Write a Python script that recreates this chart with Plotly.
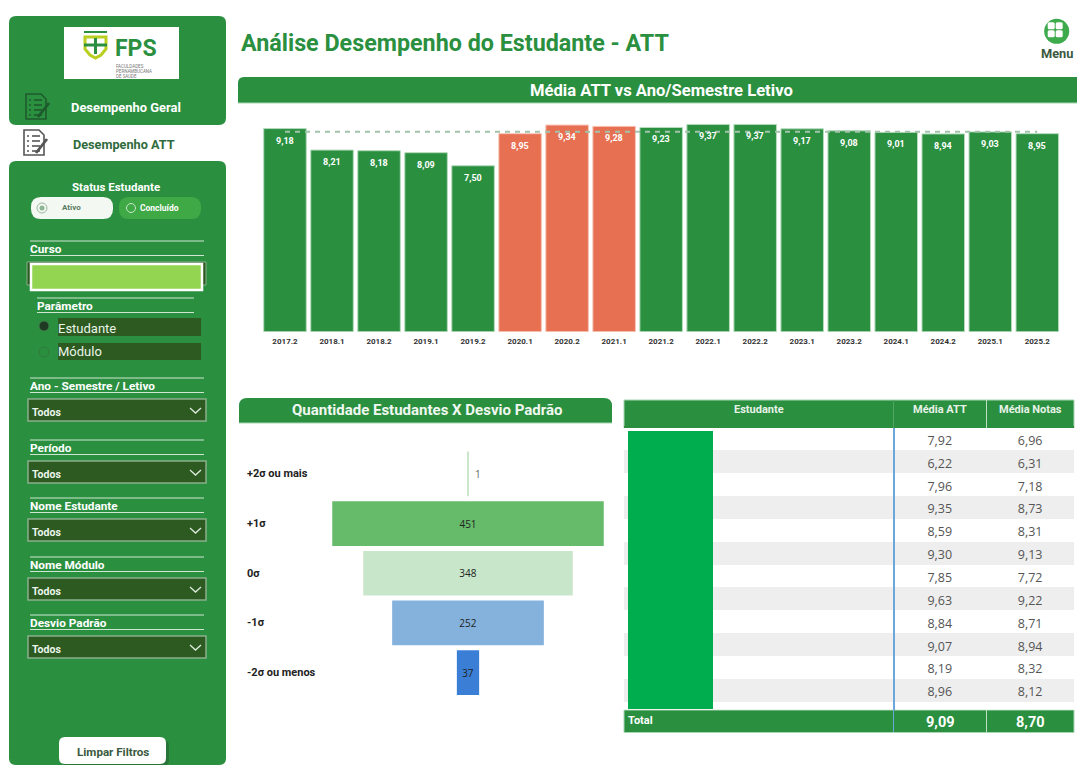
"""
Painel de desempenho ATT: sidebar de filtros, colunas por semestre, funil e tabela.
"""

import plotly.graph_objects as go

W, H = 1077, 765
FONT = "Roboto, sans-serif"
BODY_FONT = "'Open Sans', sans-serif"

GREEN = "#2A9040"
GREEN_LIGHT = "#3FA946"
GREEN_DARK = "#2C5A20"
ORANGE = "#E87052"
TEXT_DARK = "#3A5A40"
EDGE = "#A9D5B2"

# ── Dados ────────────────────────────────────────────────────────────────
semestres = ["2017.2", "2018.1", "2018.2", "2019.1", "2019.2", "2020.1", "2020.2", "2021.1", "2021.2",
             "2022.1", "2022.2", "2023.1", "2023.2", "2024.1", "2024.2", "2025.1", "2025.2"]
media_att = [9.18, 8.21, 8.18, 8.09, 7.50, 8.95, 9.34, 9.28, 9.23,
             9.37, 9.37, 9.17, 9.08, 9.01, 8.94, 9.03, 8.95]
semestres_pandemia = ["2020.1", "2020.2", "2021.1"]
media_geral = 9.04

desvio_labels = ["+2σ ou mais", "+1σ", "0σ", "-1σ", "-2σ ou menos"]
desvio_qtd = [1, 451, 348, 252, 37]
desvio_cores = ["#C9E6CB", "#66BB6A", "#C8E6C9", "#85B2DD", "#3A7FD5"]

media_att_est = ["7,92", "6,22", "7,96", "9,35", "8,59", "9,30", "7,85", "9,63", "8,84", "9,07", "8,19", "8,96", "8,97"]
media_notas_est = ["6,96", "6,31", "7,18", "8,73", "8,31", "9,13", "7,72", "9,22", "8,71", "8,94", "8,32", "8,12", "8,64"]
total_att = "9,09"
total_notas = "8,70"

filtros = ["Ano - Semestre / Letivo", "Período", "Nome Estudante", "Nome Módulo", "Desvio Padrão"]
filtros_y = [378, 440, 498, 557, 615]


def px(x):
    return x / W


def py(y):
    return 1 - y / H


shapes = []
notes = []


def rect(x0, y0, x1, y1, fill, line=None, lw=1):
    shapes.append(dict(type="rect", xref="paper", yref="paper", x0=px(x0), x1=px(x1), y0=py(y0), y1=py(y1),
                       fillcolor=fill, line=dict(color=line or fill, width=lw if line else 0), layer="below"))


def rrect(x0, y0, x1, y1, r, fill, corners=(1, 1, 1, 1), line=None, lw=1, layer="below"):
    # retangulo com cantos arredondados (tl, tr, br, bl)
    tl, tr, br, bl = [r * c for c in corners]
    X0, X1, Y0, Y1 = px(x0), px(x1), py(y0), py(y1)
    rx, ry = 1 / W, 1 / H
    d = (f"M {X0 + tl * rx} {Y0} L {X1 - tr * rx} {Y0} Q {X1} {Y0} {X1} {Y0 - tr * ry} "
         f"L {X1} {Y1 + br * ry} Q {X1} {Y1} {X1 - br * rx} {Y1} "
         f"L {X0 + bl * rx} {Y1} Q {X0} {Y1} {X0} {Y1 + bl * ry} "
         f"L {X0} {Y0 - tl * ry} Q {X0} {Y0} {X0 + tl * rx} {Y0} Z")
    shapes.append(dict(type="path", xref="paper", yref="paper", path=d, fillcolor=fill,
                       line=dict(color=line or fill, width=lw if line else 0), layer=layer))


def hline(x0, x1, y, color="#CFE6D2", lw=1, layer="below"):
    shapes.append(dict(type="line", xref="paper", yref="paper", x0=px(x0), x1=px(x1), y0=py(y), y1=py(y),
                       line=dict(color=color, width=lw), layer=layer))


def vline(x, y0, y1, color, lw=1, layer="above"):
    shapes.append(dict(type="line", xref="paper", yref="paper", x0=px(x), x1=px(x), y0=py(y0), y1=py(y1),
                       line=dict(color=color, width=lw), layer=layer))


def circle(cx, cy, r, fill, line=None, lw=1):
    shapes.append(dict(type="circle", xref="paper", yref="paper", x0=px(cx - r), x1=px(cx + r),
                       y0=py(cy + r), y1=py(cy - r), fillcolor=fill,
                       line=dict(color=line or fill, width=lw if line else 0), layer="below"))


def poly(points, color, lw=1.5, fill="rgba(0,0,0,0)", close=False):
    d = "M " + " L ".join(f"{px(x)} {py(y)}" for x, y in points) + (" Z" if close else "")
    shapes.append(dict(type="path", xref="paper", yref="paper", path=d, fillcolor=fill,
                       line=dict(color=color, width=lw), layer="below"))


def text(x, y, s, size=10, color="white", bold=True, anchor="left", family=FONT):
    notes.append(dict(xref="paper", yref="paper", x=px(x), y=py(y), text=f"<b>{s}</b>" if bold else s,
                      showarrow=False, xanchor=anchor, yanchor="middle", borderpad=0,
                      font=dict(family=family, size=size, color=color)))


def doc_icon(x, y, color):
    poly([(x, y), (x + 15, y), (x + 20, y + 5), (x + 20, y + 25), (x, y + 25)], color, 1.6, close=True)
    for dy in (6, 11, 16, 21):
        hline(x + 3, x + 5, y + dy, color, 1.6)
        hline(x + 8, x + 16, y + dy, color, 1.6)
    poly([(x + 23, y + 9), (x + 12, y + 23)], color, 2.8)


# ── Sidebar ──────────────────────────────────────────────────────────────
rrect(9, 16, 226, 125, 7, GREEN)
rrect(9, 161, 226, 765, 7, GREEN)
rrect(12, 126, 226, 160, 14, "white", corners=(1, 0, 0, 1))

# logo
rect(64, 27, 179, 79, "white")
hline(84, 107, 32, "#2A9040", 2)
poly([(85, 37), (106, 37), (106, 49), (101, 55), (95.5, 58), (90, 55), (85, 49)], "#B9CF1F", 3, close=True)
hline(84, 107, 45, "#2A9040", 3)
vline(95.5, 38, 54, "#2A9040", 3, layer="below")
text(114, 49, "FPS", 23, "#2A9040")
for i, linha in enumerate(["FACULDADES", "PERNAMBUCANA", "DE SAÚDE"]):
    text(115, 66 + i * 5, linha, 4.5, "#777777", bold=False)

doc_icon(26, 94, "#1F5A2C")
text(125.5, 108, "Desempenho Geral", 12.9, "white", anchor="center")
doc_icon(24, 130, "#555555")
text(124, 144, "Desempenho ATT", 12.7, "#2F6B3C", anchor="center")

text(116, 187, "Status Estudante", 11.5, "white", anchor="center")
rrect(31, 197, 113, 219, 10, "#F3F8F3")
circle(42, 208, 5, "#F3F8F3", "#9DB8A0")
circle(42, 208, 2.5, "#8DB592")
text(71, 208, "Ativo", 8, "#5A7A60", anchor="center")
rrect(119, 197, 201, 219, 10, GREEN_LIGHT)
circle(131, 208, 4.5, GREEN_LIGHT, "#C8E6C9")
text(160, 208, "Concluído", 8.5, "white", anchor="center")

hline(30, 204, 241)
text(29, 249, "Curso", 11.8)
hline(30, 204, 255.5)
rect(27, 262, 206, 285, GREEN_DARK, "#8AAE8C")
rect(31, 264, 202, 290, "#93D450", "white", 2.5)

hline(37, 194, 298)
text(36, 306, "Parâmetro", 11.8)
hline(37, 194, 312.5)
rect(58, 318, 201, 336, GREEN_DARK)
circle(44, 326, 5, "#1F3A22", "#3F7A48")
text(57, 328, "Estudante", 13, "#EAF5EA", bold=False)
rect(58, 343, 201, 360, GREEN_DARK)
circle(44, 352, 5, GREEN, "#2F7A3A")
text(57, 352, "Módulo", 13, "#EAF5EA", bold=False)

for nome, y in zip(filtros, filtros_y):
    hline(30, 204, y)
    text(29, y + 8, nome, 11.8)
    hline(30, 204, y + 14.5)
    rect(28, y + 21, 206, y + 43, GREEN_DARK, "#8AAE8C", 1.5)
    text(31, y + 34, "Todos", 10.5, "#EAF5EA")
    poly([(190, y + 30), (195.5, y + 35), (201, y + 30)], "#DDEBDD", 1.3)

rrect(62, 740, 169, 766, 6, "rgba(40,70,45,0.35)")
rrect(59, 737, 166, 764, 6, "white")
text(112.5, 752, "Limpar Filtros", 11.6, TEXT_DARK, anchor="center")

# ── Cabecalho ────────────────────────────────────────────────────────────
text(240, 43, "Análise Desempenho do Estudante - ATT", 23.3, GREEN)
circle(1056.7, 31.3, 12.5, "#3DAA4B")
for cx, cy in [(1051, 25.5), (1059, 25.5), (1051, 33.5), (1059, 33.5)]:
    rrect(cx - 3.3, cy - 3.3, cx + 3.7, cy + 3.7, 1.5, "white")
text(1056.7, 54, "Menu", 12.8, TEXT_DARK, anchor="center")

rrect(238, 77, 1090, 103, 6, GREEN, corners=(1, 0, 0, 0))
hline(238, 1077, 103, EDGE)
text(661, 90, "Média ATT vs Ano/Semestre Letivo", 16.6, "white", anchor="center")
rrect(239, 398, 612, 423, 8, GREEN, corners=(1, 1, 0, 0))
hline(239, 612, 423, EDGE)
text(426.5, 410, "Quantidade Estudantes X Desvio Padrão", 15, "#F0F8F0", anchor="center")

# ── Colunas ──────────────────────────────────────────────────────────────
fig = go.Figure()
cores = [ORANGE if s in semestres_pandemia else GREEN for s in semestres]
bordas = ["#F6C5B6" if s in semestres_pandemia else "#B5DBBC" for s in semestres]
fig.add_trace(go.Bar(
    x=semestres, y=media_att, marker=dict(color=cores, line=dict(color=bordas, width=1)),
    width=0.905, showlegend=False, xaxis="x", yaxis="y",
))
fig.add_trace(go.Scatter(
    x=semestres, y=[media_geral] * len(semestres), mode="lines", showlegend=False,
    line=dict(color="#A3C2AB", width=2, dash="5px,5px"), xaxis="x", yaxis="y",
))
# posicao por indice: "2017.2" seria lido como numero num eixo de categorias
for i, v in enumerate(media_att):
    notes.append(dict(x=i, y=v, xref="x", yref="y", yshift=-12, showarrow=False,
                      text=f"<b>{v:.2f}</b>".replace(".", ","),
                      font=dict(family=FONT, size=9, color="white")))

# ── Funil ────────────────────────────────────────────────────────────────
fig.add_trace(go.Funnel(
    y=desvio_labels, x=desvio_qtd, orientation="h", xaxis="x2", yaxis="y2",
    marker=dict(color=desvio_cores, line=dict(width=0)),
    connector=dict(visible=False), textinfo="value", showlegend=False,
    textposition=["none", "inside", "inside", "inside", "inside"],
    textfont=dict(family=BODY_FONT, size=10, color="#222222"),
))
notes.append(dict(xref="x2", yref="y2", x=0, y=desvio_labels[0], xshift=10, showarrow=False,
                  text=str(desvio_qtd[0]), font=dict(family=BODY_FONT, size=10, color="#666666")))
for lab in desvio_labels:
    notes.append(dict(xref="paper", yref="y2", x=px(245), y=lab, xanchor="left", showarrow=False,
                      text=f"<b>{lab}</b>", font=dict(family=FONT, size=11, color="#222222")))

# ── Tabela ───────────────────────────────────────────────────────────────
rect(624, 400, 1074, 428, GREEN, EDGE)
rect(624, 710, 1074, 732.5, GREEN, EDGE)
text(759, 409, "Estudante", 11, "#E8F3E8", anchor="center")
text(940, 409, "Média ATT", 11, "#E8F3E8", anchor="center")
text(1030, 409, "Média Notas", 11, "#E8F3E8", anchor="center")
text(627, 720, "Total", 11)
text(940, 722, total_att, 14.5, anchor="center")
text(1030, 722, total_notas, 14.5, anchor="center")

n_linhas = len(media_att_est)
estudantes = [""] * n_linhas
listras = ["white" if i % 2 == 0 else "#EEEEEE" for i in range(n_linhas)]
fig.add_trace(go.Table(
    domain=dict(x=[px(624), px(1074)], y=[py(710), py(426.5)]),
    columnwidth=[269.3, 93, 87.7],
    # cabecalho minimo: os titulos ficam nas anotacoes acima da tabela
    header=dict(values=[" ", " ", " "], height=1, fill_color=GREEN, line_color=GREEN, font=dict(size=1)),
    cells=dict(values=[estudantes, media_att_est, media_notas_est], height=22.85,
               fill_color=[listras], line_color="rgba(0,0,0,0)", align="center",
               font=dict(family=BODY_FONT, size=12.5, color="#555555")),
))
# ocultacao dos nomes
fig.add_trace(go.Table(
    domain=dict(x=[px(628), px(712)], y=[py(709), py(431)]),
    header=dict(values=[""], height=278, fill_color="#00AD4E", line_color="#00AD4E"),
    cells=dict(values=[[]]),
))
# divisor azul da coluna Estudante, por cima da tabela
fig.add_trace(go.Table(
    domain=dict(x=[px(893), px(894)], y=[py(710), py(428)]),
    header=dict(values=[""], height=282, fill_color="#6BA6DC", line_color="#6BA6DC"),
    cells=dict(values=[[]]),
))

vline(893.5, 710, 732, "#6BA6DC")
vline(986.5, 710, 732, "#BFE0C5")
vline(893.5, 400, 428, "#4FA561")
vline(986.5, 400, 428, "#BFE0C5")

plot_x0, plot_x1 = 261.5, 1060.8
fig.update_layout(
    width=W, height=H, autosize=False,
    margin=dict(l=0, r=0, t=0, b=0, autoexpand=False),
    paper_bgcolor="white", plot_bgcolor="rgba(0,0,0,0)",
    font=dict(family=FONT),
    bargap=0.1, funnelgap=0.1, showlegend=False,
    xaxis=dict(domain=[px(plot_x0), px(plot_x1)], type="category", categoryorder="array",
               categoryarray=semestres, range=[-0.5, 16.5], showgrid=False, zeroline=False, showline=False,
               ticks="", tickfont=dict(family=FONT, size=8, color="#333333", weight=700), tickangle=0, dtick=1,
               ticklabelstandoff=3, automargin=False),
    yaxis=dict(domain=[py(331.7), py(110)], range=[0, 10.02], visible=False, automargin=False),
    xaxis2=dict(domain=[px(316), px(620)], range=[-252.5, 252.5], visible=False, anchor="y2", automargin=False),
    yaxis2=dict(domain=[py(697.5), py(449)], type="category", categoryorder="array",
                categoryarray=desvio_labels, range=[4.5, -0.5], visible=False, anchor="x2", automargin=False),
    shapes=shapes, annotations=notes,
)

fig.write_html("out.html", config=dict(displayModeBar=False),
               post_script="document.body.style.margin='0';document.body.style.overflow='hidden';")
